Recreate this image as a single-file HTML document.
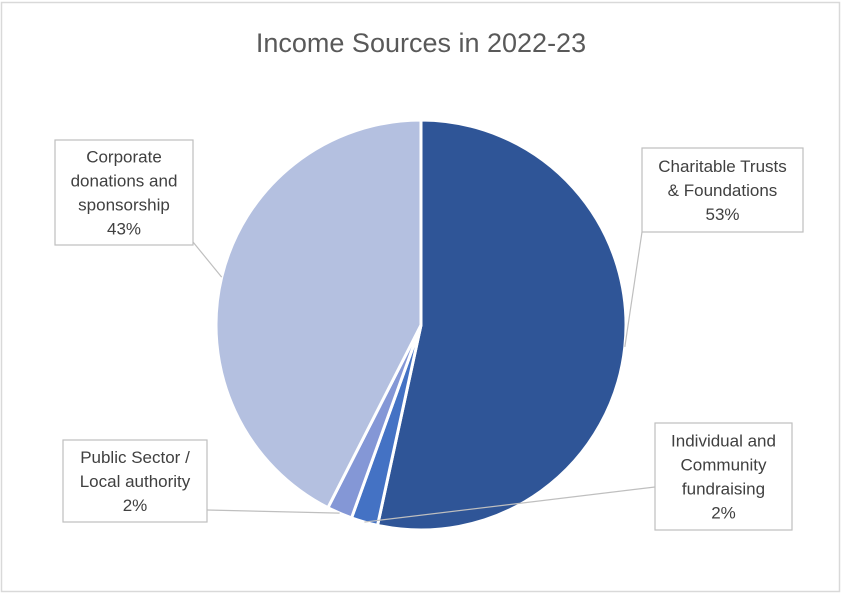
<!DOCTYPE html>
<html><head><meta charset="utf-8"><style>
body{margin:0;background:#fff;}
svg{display:block;font-family:"Liberation Sans",sans-serif;}
</style></head><body>
<svg width="842" height="594" viewBox="0 0 842 594">
<rect x="1.5" y="2.5" width="838" height="589" fill="#fff" stroke="#d9d9d9" stroke-width="1.5"/>
<text x="421" y="52" text-anchor="middle" font-size="27" fill="#595959">Income Sources in 2022-23</text>
<g id="slices"></g>
<g id="labels"></g>
</svg>
<script>
const categories=["Charitable Trusts & Foundations","Individual and Community fundraising","Public Sector / Local authority","Corporate donations and sponsorship"];
const values=[53.4,2.1,2.0,42.5];
const percentLabels=["53%","2%","2%","43%"];
const colors=["#2f5597","#4472c4","#8497d6","#b4c0e0"];
const cx=421,cy=325,r=205;
const ns="http://www.w3.org/2000/svg";
const total=values.reduce((a,b)=>a+b,0);
const g=document.getElementById('slices');
function pt(a,rr){return [cx+rr*Math.sin(a),cy-rr*Math.cos(a)];}
let a0=0;
const mids=[];
values.forEach((v,i)=>{
  const a1=a0+v/total*2*Math.PI;
  const p0=pt(a0,r),p1=pt(a1,r);
  const large=(a1-a0)>Math.PI?1:0;
  const p=document.createElementNS(ns,'path');
  p.setAttribute('d',`M${cx},${cy}L${p0[0]},${p0[1]}A${r},${r} 0 ${large} 1 ${p1[0]},${p1[1]}Z`);
  p.setAttribute('fill',colors[i]);
  p.setAttribute('stroke','#fff');
  p.setAttribute('stroke-width','3');
  
  
  g.appendChild(p);
  mids.push((a0+a1)/2);
  a0=a1;
});
const boxes=[
 {x:642,y:148,w:161,h:84,lines:["Charitable Trusts","& Foundations"],ax:642,ay:232},
 {x:655,y:423,w:137,h:107,lines:["Individual and","Community","fundraising"],ax:655,ay:487},
 {x:63,y:440,w:144,h:82,lines:["Public Sector /","Local authority"],ax:207,ay:510},
 {x:55,y:140,w:138,h:105,lines:["Corporate","donations and","sponsorship"],ax:193,ay:242}
];
const lg=document.getElementById('labels');
boxes.forEach((b,i)=>{
  const e=pt(mids[i],r);
  const l=document.createElementNS(ns,'polyline');
  l.setAttribute('points',`${b.ax},${b.ay} ${e[0]},${e[1]}`);
  l.setAttribute('fill','none');l.setAttribute('stroke','#bfbfbf');l.setAttribute('stroke-width','1.2');
  
  
  lg.appendChild(l);
  const rc=document.createElementNS(ns,'rect');
  rc.setAttribute('x',b.x);rc.setAttribute('y',b.y);rc.setAttribute('width',b.w);rc.setAttribute('height',b.h);
  rc.setAttribute('fill','#fff');rc.setAttribute('stroke','#bfbfbf');rc.setAttribute('stroke-width','1.2');
  
  
  lg.appendChild(rc);
  const lines=b.lines.concat([percentLabels[i]]);
  const lh=24, start=b.y+b.h/2-(lines.length-1)*lh/2+6;
  lines.forEach((s,j)=>{
    const t=document.createElementNS(ns,'text');
    t.setAttribute('x',b.x+b.w/2);t.setAttribute('y',start+j*lh);
    t.setAttribute('text-anchor','middle');t.setAttribute('font-size','17');t.setAttribute('fill','#404040');
    
    
    t.textContent=s;lg.appendChild(t);
  });
});
</script>
</body></html>
